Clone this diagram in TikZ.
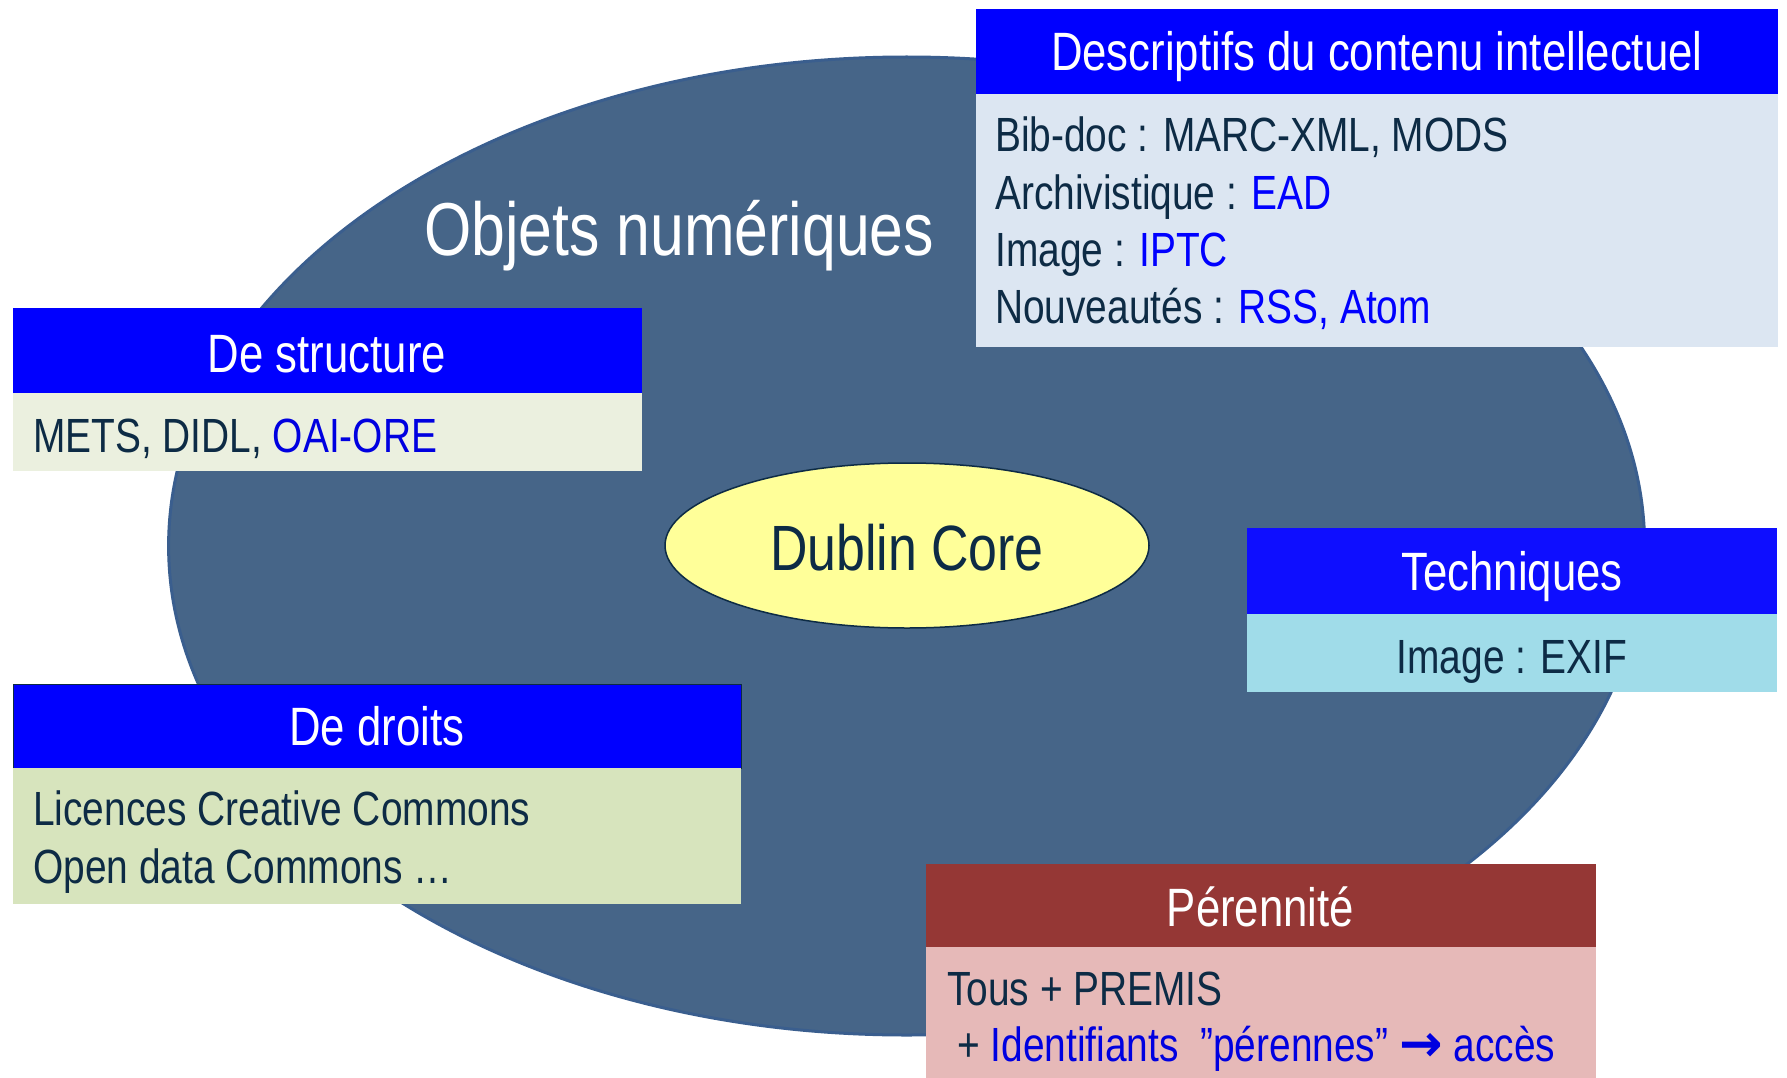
\documentclass[tikz,border=0pt]{standalone}
\usepackage{fontspec}
\setmainfont{Liberation Sans}[FakeStretch=0.81]
\newfontfamily\arrowfont{DejaVu Sans}
\usetikzlibrary{shapes.geometric}
\definecolor{bigblue}{HTML}{466588}
\definecolor{edgeblue}{HTML}{3A5E8E}
\definecolor{hblue}{HTML}{0000FF}
\definecolor{tblue}{HTML}{0E0EFF}
\definecolor{txtdark}{HTML}{0D2B45}
\definecolor{linkblue}{HTML}{0000E0}
\definecolor{bodyA}{HTML}{DCE6F2}
\definecolor{bodyB}{HTML}{EBF0DF}
\definecolor{bodyC}{HTML}{D7E4BD}
\definecolor{bodyD}{HTML}{A0DCE9}
\definecolor{hred}{HTML}{953735}
\definecolor{bodyE}{HTML}{E6B9B8}
\definecolor{dcyellow}{HTML}{FFFF99}
\tikzset{
  boxpart/.style={rectangle, inner sep=0pt, anchor=north west, draw=none},
  headtxt/.style={inner sep=0pt, anchor=base, text=white, font=\fontsize{54}{60}\selectfont},
  bodytxt/.style={inner sep=0pt, anchor=base west, text=txtdark, font=\fontsize{48}{57}\selectfont},
}
\begin{document}
\begin{tikzpicture}[x=1pt,y=-1pt]
\useasboundingbox (0,0) rectangle (1787,1078);
\fill[white] (0,0) rectangle (1787,1078);

% big ellipse
\node[ellipse, draw=edgeblue, line width=3pt, fill=bigblue, minimum width=1476pt, minimum height=978pt, inner sep=0pt] (obj) at (906.6,546) {};
\node[inner sep=0pt, anchor=base west, text=white, font=\fontsize{75}{80}\selectfont] (objtitle) at (424,255) {Objets numériques};

% Dublin Core
\node[ellipse, draw=txtdark, line width=1.5pt, fill=dcyellow, minimum width=484pt, minimum height=165pt, inner sep=0pt] (dc) at (907,545.5) {};
\node[inner sep=0pt, anchor=base, text=txtdark, font=\fontsize{64}{70}\selectfont] (dctxt) at (907,570) {Dublin Core};

% Descriptifs du contenu intellectuel
\node[boxpart, fill=hblue, minimum width=802.4pt, minimum height=84.5pt] (dhead) at (975.6,9) {};
\node[boxpart, fill=bodyA, minimum width=802.4pt, minimum height=253pt] (dbody) at (975.6,93.5) {};
\node[headtxt] (dtitle) at (1376.8,70.7) {Descriptifs du contenu intellectuel};
\node[bodytxt] (dl1) at (995,151.6) {Bib-doc : MARC-XML, MODS};
\node[bodytxt] (dl2) at (995,209) {Archivistique : \textcolor{hblue}{EAD}};
\node[bodytxt] (dl3) at (995,266.4) {Image : \textcolor{hblue}{IPTC}};
\node[bodytxt] (dl4) at (995,323.8) {Nouveautés : \textcolor{hblue}{RSS, Atom}};

% De structure
\node[boxpart, fill=hblue, minimum width=629.1pt, minimum height=85.5pt] (shead) at (12.5,307.7) {};
\node[boxpart, fill=bodyB, minimum width=629.1pt, minimum height=77.5pt] (sbody) at (12.5,393.2) {};
\node[headtxt] (stitle) at (327,372.7) {De structure};
\node[bodytxt] (sl1) at (33,452.5) {METS, DIDL, \textcolor{linkblue}{OAI-ORE}};

% De droits
\node[boxpart, fill=hblue, draw=txtdark, line width=1pt, minimum width=728.5pt, minimum height=84pt] (rhead) at (12.5,684) {};
\node[boxpart, fill=bodyC, minimum width=728.5pt, minimum height=136pt] (rbody) at (12.5,768) {};
\node[headtxt] (rtitle) at (376.8,745) {De droits};
\node[bodytxt] (rl1) at (33,825) {Licences Creative Commons};
\node[bodytxt] (rl2) at (33,883) {Open data Commons …};

% Techniques
\node[boxpart, fill=tblue, minimum width=530pt, minimum height=86pt] (thead) at (1247,528) {};
\node[boxpart, fill=bodyD, minimum width=530pt, minimum height=78pt] (tbody) at (1247,614) {};
\node[headtxt] (ttitle) at (1512,590) {Techniques};
\node[bodytxt, anchor=base] (tl1) at (1512,673.5) {Image : EXIF};

% Pérennité
\node[boxpart, fill=hred, minimum width=670.2pt, minimum height=83pt] (phead) at (925.4,864) {};
\node[boxpart, fill=bodyE, minimum width=670.2pt, minimum height=131pt] (pbody) at (925.4,947) {};
\node[headtxt] (ptitle) at (1260.5,926.6) {Pérennité};
\node[bodytxt] (pl1) at (947,1005) {Tous + PREMIS};
\node[bodytxt] (pl2) at (957,1061) {+ \textcolor{linkblue}{Identifiants\ \ ”pérennes” {\arrowfont\bfseries\fontsize{52}{57}\selectfont →} accès}};
\end{tikzpicture}
\end{document}
